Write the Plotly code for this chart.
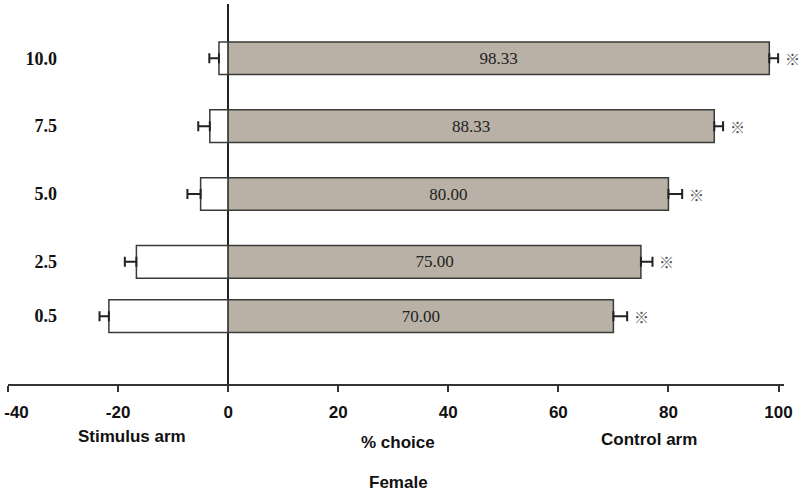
import plotly.graph_objects as go

concentrations = [0.5, 2.5, 5.0, 7.5, 10.0]
conc_labels = ["0.5", "2.5", "5.0", "7.5", "10.0"]
control_pct = [70.00, 75.00, 80.00, 88.33, 98.33]
control_err = [2.5, 2.1, 2.5, 1.6, 1.6]
stimulus_pct = [-21.67, -16.67, -5.00, -3.33, -1.67]
stimulus_err = [1.7, 2.1, 2.4, 2.1, 1.75]
sig_mark = ["※", "※", "※", "※", "※"]
x_ticks = [-40, -20, 0, 20, 40, 60, 80, 100]
x_tick_text = ["\u2002\u2002-40", "-20", "0", "20", "40", "60", "80", "100"]

fig = go.Figure()

fig.add_trace(go.Bar(
    y=concentrations, x=stimulus_pct, orientation="h", width=1.2,
    marker=dict(color="white", line=dict(color="#3a3a3a", width=1.5)),
    error_x=dict(type="data", symmetric=False, array=[0]*5, arrayminus=stimulus_err,
                 color="#222", thickness=2, width=5),
    showlegend=False, hoverinfo="skip",
))

fig.add_trace(go.Bar(
    y=concentrations, x=control_pct, orientation="h", width=1.2,
    marker=dict(color="#b9b1a6", line=dict(color="#3a3a3a", width=1.5)),
    error_x=dict(type="data", symmetric=False, array=control_err, arrayminus=[0]*5,
                 color="#222", thickness=2, width=5),
    text=[f"{v:.2f}" for v in control_pct], textposition="inside",
    insidetextanchor="middle", textangle=0,
    textfont=dict(family="Liberation Serif", size=17, color="#222"),
    showlegend=False, hoverinfo="skip",
))

for c, v, e, m in zip(concentrations, control_pct, control_err, sig_mark):
    fig.add_annotation(x=v + e, y=c, xref="x", yref="y", text=m, showarrow=False,
                       xanchor="left", xshift=5,
                       font=dict(family="Noto Sans CJK SC, DejaVu Sans", size=15, color="#555"))

bold = dict(family="Liberation Sans", size=17, color="#111")
for txt, px, py in [("<b>Stimulus arm</b>", 0.160, -0.139),
                    ("<b>% choice</b>", 0.503, -0.155),
                    ("<b>Control arm</b>", 0.826, -0.145),
                    ("<b>Female</b>", 0.503, -0.258)]:
    fig.add_annotation(x=px, y=py, xref="paper", yref="paper", text=txt, showarrow=False,
                       xanchor="center", yanchor="middle", font=bold)

fig.update_layout(
    width=800, height=492,
    margin=dict(l=8, r=16, t=4, b=108),
    paper_bgcolor="white", plot_bgcolor="white",
    barmode="overlay",
    xaxis=dict(range=[-40, 101], tickvals=x_ticks, ticktext=[f"<b>{t}</b>" for t in x_tick_text],
               showgrid=False, zeroline=True, zerolinecolor="#222", zerolinewidth=1.5,
               showline=True, linecolor="#333", linewidth=1.5,
               ticks="outside", ticklen=6, tickwidth=1.5, tickcolor="#333",
               ticklabelstandoff=6, ticklabeloverflow="allow", automargin=False,
               tickfont=dict(family="Liberation Sans", size=17, color="#111"),
               layer="above traces"),
    yaxis=dict(range=[-2, 12], tickvals=concentrations, ticktext=[f"<b>{t}</b>" for t in conc_labels],
               anchor="free", position=0.063, showgrid=False, zeroline=False,
               showline=False, ticks="", automargin=False,
               tickfont=dict(family="Liberation Serif", size=18, color="#111")),
)

fig.write_html("out.html", config={"displayModeBar": False},
               post_script="document.body.style.margin='0';")
